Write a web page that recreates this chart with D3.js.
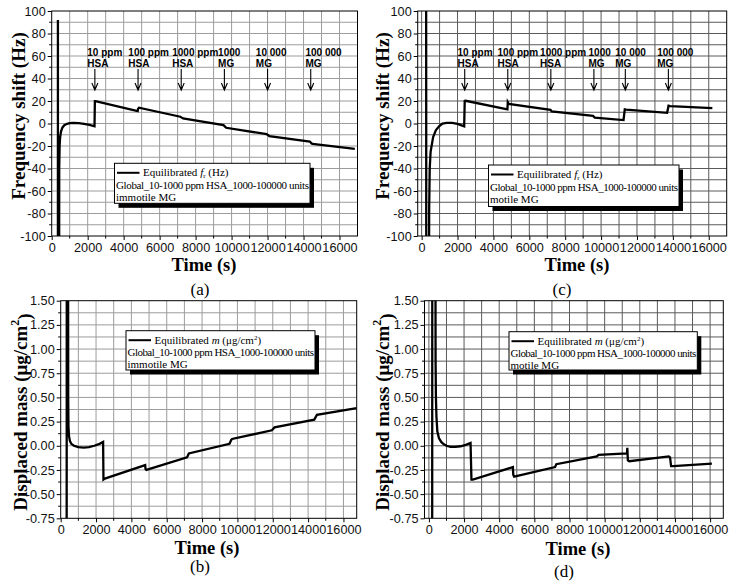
<!DOCTYPE html>
<html><head><meta charset="utf-8">
<script src="https://cdn.jsdelivr.net/npm/d3@7"></script>
<style>body{margin:0;background:#fff}svg{display:block}</style>
</head><body><svg id="chart" width="734" height="583"></svg>
<script>
// ---------- data ----------
const xTicks = [0,2000,4000,6000,8000,10000,12000,14000,16000];
const freqTicks = [-100,-80,-60,-40,-20,0,20,40,60,80,100];
const massTicks = [-0.75,-0.5,-0.25,0,0.25,0.5,0.75,1.0,1.25,1.5];
const injLine1 = ["10 ppm","100 ppm","1000 ppm","1000","10 000","100 000"];
const injLine2 = ["HSA","HSA","HSA","MG","MG","MG"];
const injTimeA = [2400,4800,7200,9600,12000,14400];
const injTimeC = [2400,4800,7200,9600,11350,13750];
const labelTimeA = [1980,4260,6700,9250,11350,14110];
const labelTimeC = [2000,4230,6600,9300,10790,13130];
const legendGlobal = "Global_10-1000 ppm HSA_1000-100000 units";
const legendImmotile = "immotile MG";
const legendMotile = "motile MG";

// (a) frequency shift, immotile MG
const timeA = [345,345,412,418,440,470,520,600,700,850,1000,1200,1500,1800,2100,2380,2400,2430,4780,4800,4850,7150,7250,7300,9550,9650,9700,11950,12050,12100,14350,14450,14500,16850];
const freqA = [92,-200,-200,-40,-20,-12,-7,-3.5,-1.5,-0.3,0.3,0.5,0.4,-0.3,-1.2,-2.5,19.8,19.8,11,13,14,6,5,4.5,-1.5,-3,-3.8,-9.5,-10.5,-11.2,-16,-17.8,-18.2,-22.5];
// (b) displaced mass, immotile MG
const timeB = [335,345,415,425,440,470,520,600,750,1000,1300,1600,1900,2200,2400,2420,2500,4780,4800,4850,7150,7250,9550,9650,9700,11950,12100,14350,14500,16750];
const massB = [-2,3,3,0.5,0.2,0.1,0.05,0.02,0.0,-0.015,-0.02,-0.015,0.0,0.02,0.04,-0.35,-0.34,-0.2,-0.24,-0.25,-0.12,-0.08,0.02,0.06,0.07,0.16,0.19,0.27,0.32,0.39];
// (c) frequency shift, motile MG
const timeC = [250,260,400,420,450,500,640,790,970,1160,1400,1700,2000,2370,2400,2450,4780,4800,4850,7180,7250,9550,9650,11250,11320,11400,13680,13760,13850,16200];
const freqC = [150,-200,-200,-75,-40,-25,-12,-6,-2.5,0,0.6,0.5,-0.3,-2.5,20,20.2,12.5,19,17.5,12.2,10.8,6.8,5.3,3,12.5,12.3,9.5,15.8,15.5,13.7];
// (d) displaced mass, motile MG
const timeD = [185,195,370,380,400,430,480,570,700,850,1000,1230,1500,1800,2100,2370,2420,2500,4780,4800,4850,7180,7250,9550,9650,11270,11290,11320,11400,13650,13720,13780,13900,16100];
const massD = [-2,3,3,0.9,0.5,0.3,0.15,0.08,0.04,0.015,0.0,-0.012,-0.012,-0.005,0.01,0.03,-0.35,-0.35,-0.22,-0.3,-0.32,-0.22,-0.19,-0.11,-0.095,-0.08,-0.02,-0.15,-0.16,-0.11,-0.12,-0.21,-0.21,-0.185];

// ---------- drawing ----------
const svg = d3.select('#chart');
const SANS = "'Liberation Sans', Arial, sans-serif";
const SERIF = "'Liberation Serif', 'Times New Roman', serif";

function drawPanel(c, idx){
  const x = d3.scaleLinear().domain(c.xDom).range([c.L, c.R]);
  const y = d3.scaleLinear().domain(c.yDom).range([c.B, c.T]);
  const g = svg.append('g');
  const cid = 'clip' + idx;
  svg.append('clipPath').attr('id', cid).append('rect')
    .attr('x', c.L).attr('y', c.T).attr('width', c.R - c.L).attr('height', c.B - c.T);

  // grid
  const vx = d3.range(0, c.xDom[1] + 1, 1000).filter(v => v > c.xDom[0] && v < c.xDom[1]);
  g.append('g').selectAll('line').data(vx).join('line')
    .attr('x1', d => x(d)).attr('x2', d => x(d)).attr('y1', c.T).attr('y2', c.B)
    .attr('stroke', c.grid).attr('stroke-width', 1);
  const n = Math.round((c.yDom[1] - c.yDom[0]) / c.yStep);
  const hy = d3.range(1, n).map(i => c.yDom[0] + i * c.yStep);
  g.append('g').selectAll('line').data(hy).join('line')
    .attr('x1', c.L).attr('x2', c.R).attr('y1', d => y(d)).attr('y2', d => y(d))
    .attr('stroke', c.grid).attr('stroke-width', 1);

  // axes
  const xa = g.append('g').attr('transform', `translate(0,${c.B})`)
    .call(d3.axisBottom(x).tickValues(xTicks).tickFormat(d => String(d)).tickSizeInner(4).tickSizeOuter(0).tickPadding(3));
  const ya = g.append('g').attr('transform', `translate(${c.L},0)`)
    .call(d3.axisLeft(y).tickValues(c.yTicks).tickFormat(c.yFmt).tickSizeInner(4).tickSizeOuter(0).tickPadding(2));
  [xa, ya].forEach(a => {
    a.select('.domain').remove();
    a.selectAll('text').attr('font-family', SANS).attr('font-size', 12.7).attr('fill', '#111');
    a.selectAll('line').attr('stroke', '#000');
  });
  // minor ticks
  const mx = d3.range(1000, c.xDom[1], 2000).filter(v => v > c.xDom[0]);
  g.append('g').selectAll('line').data(mx).join('line')
    .attr('x1', d => x(d)).attr('x2', d => x(d)).attr('y1', c.B).attr('y2', c.B + 2.5).attr('stroke', '#000');
  const my = d3.range(0, n).filter(i => i % 2 === 1).map(i => c.yDom[0] + i * c.yStep);
  g.append('g').selectAll('line').data(my).join('line')
    .attr('x1', c.L - 2.5).attr('x2', c.L).attr('y1', d => y(d)).attr('y2', d => y(d)).attr('stroke', '#000');

  // frame
  g.append('rect').attr('x', c.L).attr('y', c.T).attr('width', c.R - c.L).attr('height', c.B - c.T)
    .attr('fill', 'none').attr('stroke', '#000').attr('stroke-width', 1);

  // data line
  const pts = c.time.map((t, i) => [t, c.vals[i]]);
  g.append('path').datum(pts).attr('clip-path', `url(#${cid})`)
    .attr('d', d3.line().x(d => x(d[0])).y(d => y(d[1])))
    .attr('fill', 'none').attr('stroke', '#000').attr('stroke-width', 2.3).attr('stroke-linejoin', 'miter');

  // injection annotations
  if (c.inj) {
    const ag = g.append('g');
    c.inj.forEach((t, i) => {
      const ax = x(t);
      ag.append('path').attr('d', `M${ax},${c.T + 58}V${c.T + 79}M${ax - 3},${c.T + 72}L${ax},${c.T + 79}L${ax + 3},${c.T + 72}`)
        .attr('fill', 'none').attr('stroke', '#000').attr('stroke-width', 1.1);
      const lx = x(c.lab[i]);
      ag.append('text').attr('x', lx).attr('y', c.T + 44.5).text(injLine1[i])
        .attr('font-family', SANS).attr('font-weight', 'bold').attr('font-size', 10).attr('fill', '#000');
      ag.append('text').attr('x', lx).attr('y', c.T + 56).text(injLine2[i])
        .attr('font-family', SANS).attr('font-weight', 'bold').attr('font-size', 10).attr('fill', '#000');
    });
  }

  // legend
  const L = c.leg;
  const lg = g.append('g');
  lg.append('rect').attr('x', L.x + 4).attr('y', L.y + 4.5).attr('width', L.w).attr('height', L.h).attr('fill', '#000');
  lg.append('rect').attr('x', L.x).attr('y', L.y).attr('width', L.w).attr('height', L.h)
    .attr('fill', '#fff').attr('stroke', '#000').attr('stroke-width', 1);
  lg.append('line').attr('x1', L.x + 2.5).attr('x2', L.x + 25).attr('y1', L.y + 9.5).attr('y2', L.y + 9.5)
    .attr('stroke', '#000').attr('stroke-width', 2);
  const t1 = lg.append('text').attr('x', L.x + 28.5).attr('y', L.y + 13)
    .attr('font-family', SERIF).attr('font-size', 11).attr('fill', '#000');
  if (c.kind === 'freq') {
    t1.append('tspan').text('Equilibrated ');
    t1.append('tspan').attr('font-style', 'italic').text('f');
    t1.append('tspan').attr('font-size', 7).attr('dy', 2).text('r');
    t1.append('tspan').attr('dy', -2).text(' (Hz)');
  } else {
    t1.append('tspan').text('Equilibrated ');
    t1.append('tspan').attr('font-style', 'italic').text('m');
    t1.append('tspan').text(' (μg/cm');
    t1.append('tspan').attr('font-size', 7).attr('dy', -4).text('2');
    t1.append('tspan').attr('dy', 4).text(')');
  }
  lg.append('text').attr('x', L.x + 1.5).attr('y', L.y + 25.5).text(legendGlobal)
    .attr('font-family', SERIF).attr('font-size', 11).attr('fill', '#000').attr('textLength', L.w - 2.5);
  lg.append('text').attr('x', L.x + 1.5).attr('y', L.y + 37.5).text(c.sub)
    .attr('font-family', SERIF).attr('font-size', 11).attr('fill', '#000');

  // axis titles
  g.append('text').attr('x', c.timeX).attr('y', c.timeY).attr('text-anchor', 'middle')
    .attr('font-family', SERIF).attr('font-weight', 'bold').attr('font-size', 18.5).text('Time (s)');
  const yt = g.append('text').attr('transform', `translate(${c.titleX},${c.titleY}) rotate(-90)`)
    .attr('text-anchor', 'middle').attr('dy', '0.35em')
    .attr('font-family', SERIF).attr('font-weight', 'bold').attr('font-size', 19);
  if (c.kind === 'freq') {
    yt.text('Frequency shift (Hz)');
  } else {
    yt.append('tspan').text('Displaced mass (μg/cm');
    yt.append('tspan').attr('font-size', 12).attr('dy', '-0.6em').text('2');
    yt.append('tspan').attr('dy', '0.6em').text(')');
  }
  // caption
  g.append('text').attr('x', c.capX).attr('y', c.capY).attr('text-anchor', 'middle')
    .attr('font-family', SERIF).attr('font-size', 17).text(c.cap);
}

const fmtFreq = d => String(d);
const fmtMass = d => d.toFixed(2);

const panels = [
  {kind:'freq', L:51.7, R:357.5, T:11, B:236, xDom:[0,17000], yDom:[-100,100], yTicks:freqTicks, yStep:10, yFmt:fmtFreq,
   time:timeA, vals:freqA, grid:'#9c9c9c', inj:injTimeA, lab:labelTimeA,
   leg:{x:114.5, y:163.3, w:195.5, h:40}, sub:legendImmotile,
   titleX:18, titleY:116, timeX:204, timeY:271, cap:'(a)', capX:200, capY:295},
  {kind:'mass', L:60.7, R:356.7, T:300.7, B:518.3, xDom:[0,16750], yDom:[-0.75,1.5], yTicks:massTicks, yStep:0.125, yFmt:fmtMass,
   time:timeB, vals:massB, grid:'#9c9c9c', inj:null,
   leg:{x:126, y:330.7, w:189, h:39.3}, sub:legendImmotile,
   titleX:20, titleY:412, timeX:207, timeY:553.5, cap:'(b)', capX:200, capY:571.5},
  {kind:'freq', L:417.7, R:726.7, T:11, B:236, xDom:[-220,17000], yDom:[-100,100], yTicks:freqTicks, yStep:10, yFmt:fmtFreq,
   time:timeC, vals:freqC, grid:'#5a5a5a', inj:injTimeC, lab:labelTimeC,
   leg:{x:488.5, y:165, w:190.5, h:41.5}, sub:legendMotile,
   titleX:382, titleY:116, timeX:577, timeY:270.5, cap:'(c)', capX:562, capY:295},
  {kind:'mass', L:424.5, R:723.3, T:300.7, B:518.3, xDom:[-250,16750], yDom:[-0.75,1.5], yTicks:massTicks, yStep:0.125, yFmt:fmtMass,
   time:timeD, vals:massD, grid:'#5a5a5a', inj:null,
   leg:{x:509, y:331.7, w:188.3, h:38.3}, sub:legendMotile,
   titleX:382, titleY:412, timeX:578, timeY:555, cap:'(d)', capX:564, capY:577}
];
panels.forEach((p, i) => drawPanel(p, i));
</script>
</body></html>
